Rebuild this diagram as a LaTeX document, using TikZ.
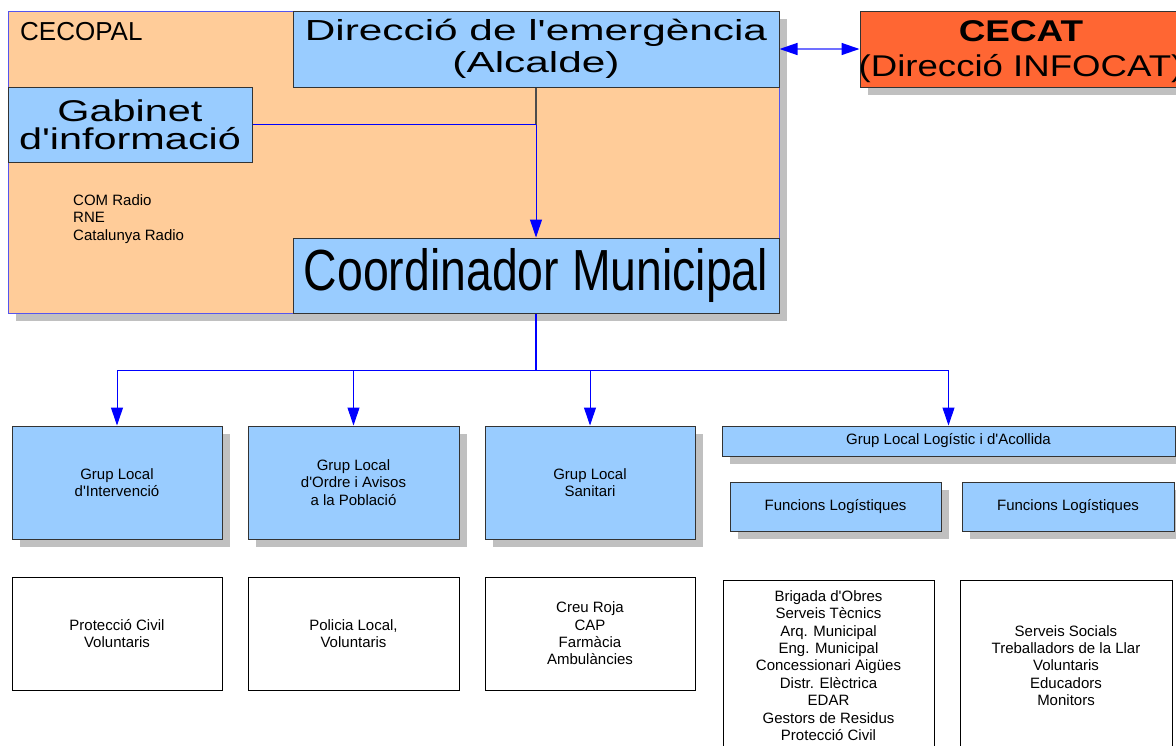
\documentclass[tikz,border=0pt]{standalone}
\usepackage{fontspec}
\setmainfont{Liberation Sans}[Ligatures=TeXOff]
\newfontfamily\wideA[FakeStretch=1.46]{Liberation Sans}
\newfontfamily\wideB[FakeStretch=1.38]{Liberation Sans}
\newfontfamily\narrowA[FakeStretch=0.8]{Liberation Sans}
\newfontfamily\cecatA[FakeStretch=1.22]{Liberation Sans}
\usetikzlibrary{arrows.meta,shadows}
\definecolor{peach}{HTML}{FFCC99}
\definecolor{lblue}{HTML}{99CCFF}
\definecolor{cecatc}{HTML}{FF6633}
\definecolor{shad}{HTML}{C0C0C0}
\definecolor{bord}{HTML}{333333}
\definecolor{pblue}{HTML}{5555EE}
\definecolor{lineblue}{HTML}{7070FF}
\definecolor{ablue}{HTML}{0000FF}
\tikzset{
  box/.style={draw=bord, line width=1pt, inner sep=0pt, align=center},
  shad/.style={drop shadow={shadow xshift=8pt, shadow yshift=-8pt, fill=shad, opacity=1}},
  bluebox/.style={box, fill=lblue},
  whitebox/.style={box, draw=black, fill=white},
  small/.style={font=\fontsize{15}{17.4}\selectfont},
  conn/.style={draw=ablue, line width=1pt},
  arr/.style={conn, -{Triangle[length=18pt,width=12pt]}},
}
\begin{document}
\begin{tikzpicture}[x=1pt,y=-1pt]
\useasboundingbox (0,0) rectangle (1176,745);
\clip (0,0) rectangle (1176,745);
% CECOPAL area
\node[box, draw=pblue, fill=peach, shad, minimum width=771pt, minimum height=302pt] (cecopal) at (393.5,162) {};
\node[anchor=base west, inner sep=0pt, font=\fontsize{26}{30}\selectfont] (cecopaltxt) at (20,40) {CECOPAL};
\node[bluebox, minimum width=486pt, minimum height=76pt, font=\wideA\fontsize{29}{32}\selectfont] (dir) at (536,49) {Direcció de l'emergència\\(Alcalde)};
\node[bluebox, minimum width=244pt, minimum height=75pt, font=\wideB\fontsize{30}{28}\selectfont] (gab) at (130,124.5) {Gabinet\\d'informació};
\node[bluebox, minimum width=486pt, minimum height=75pt, font=\narrowA\fontsize{58}{60}\selectfont] (coord) at (536,275.5) {Coordinador Municipal};
\node[anchor=north west, align=left, inner sep=0pt, font=\fontsize{15}{17.6}\selectfont] (radio) at (73,194) {COM Radio\\RNE\\Catalunya Radio};
% CECAT (its text runs past the box, as in the reference)
\node[box, fill=cecatc, shad, minimum width=322pt, minimum height=76pt] (cecat) at (1021,49) {};
\node[align=center, inner sep=0pt, font=\cecatA\fontsize{30}{35}\selectfont] (cecattxt) at ([yshift=-3pt]cecat.center)
  {{\bfseries\addfontfeature{FakeStretch=1.23}CECAT}\\(Direcció INFOCAT)};
% connectors in top part
\coordinate (j) at (536,124.5);
\draw[draw=black!70, line width=1.2pt] (dir.south) -- (j);
\draw[conn] (gab.east) -- (j);
\draw[arr] (j) -- (coord.north);
\draw[draw=lineblue, line width=1.4pt, {Triangle[length=18pt,width=12pt,color=ablue]}-{Triangle[length=18pt,width=12pt,color=ablue]}] (dir.east) -- (cecat.west);
% groups
\node[bluebox, shad, small, minimum width=210pt, minimum height=113pt] (g1) at (117,482.5) {Grup Local\\d'Intervenció};
\node[bluebox, shad, small, minimum width=211pt, minimum height=113pt] (g2) at (353.5,482.5) {Grup Local\\d'Ordre i Avisos\\a la Població};
\node[bluebox, shad, small, minimum width=210pt, minimum height=113pt] (g3) at (590,482.5) {Grup Local\\Sanitari};
\node[bluebox, shad, small, minimum width=453pt, minimum height=30pt] (g4) at (948.5,441) {Grup Local Logístic i d'Acollida};
\node[bluebox, shad, small, minimum width=211pt, minimum height=49pt] (f1) at (835.5,506.5) {Funcions Logístiques};
\node[bluebox, shad, small, minimum width=212pt, minimum height=49pt] (f2) at (1068,506.5) {Funcions Logístiques};
% bus
\coordinate (bus) at (536,370);
\coordinate (busL) at (117,370);
\coordinate (busR) at (948.5,370);
\draw[conn, line width=1.6pt] (coord.south) -- (bus);
\draw[conn] (busL) -- (busR);
\draw[arr] (busL) -- (g1.north);
\draw[arr] (g2.north |- bus) -- (g2.north);
\draw[arr] (g3.north |- bus) -- (g3.north);
\draw[arr] (busR) -- (g4.north);
% white boxes
\node[whitebox, small, minimum width=210pt, minimum height=113pt] (w1) at (117,633.5) {Protecció Civil\\Voluntaris};
\node[whitebox, small, minimum width=211pt, minimum height=113pt] (w2) at (353.5,633.5) {Policia Local,\\Voluntaris};
\node[whitebox, small, minimum width=210pt, minimum height=113pt] (w3) at (590,633.5) {Creu Roja\\CAP\\Farmàcia\\Ambulàncies};
\node[whitebox, small, minimum width=211pt, minimum height=171pt] (w4) at (828.5,665.5) {Brigada d'Obres\\Serveis Tècnics\\Arq. Municipal\\Eng. Municipal\\Concessionari Aigües\\Distr. Elèctrica\\EDAR\\Gestors de Residus\\Protecció Civil};
\node[whitebox, small, minimum width=212pt, minimum height=171pt] (w5) at (1066,665.5) {Serveis Socials\\Treballadors de la Llar\\Voluntaris\\Educadors\\Monitors};
\end{tikzpicture}
\end{document}
